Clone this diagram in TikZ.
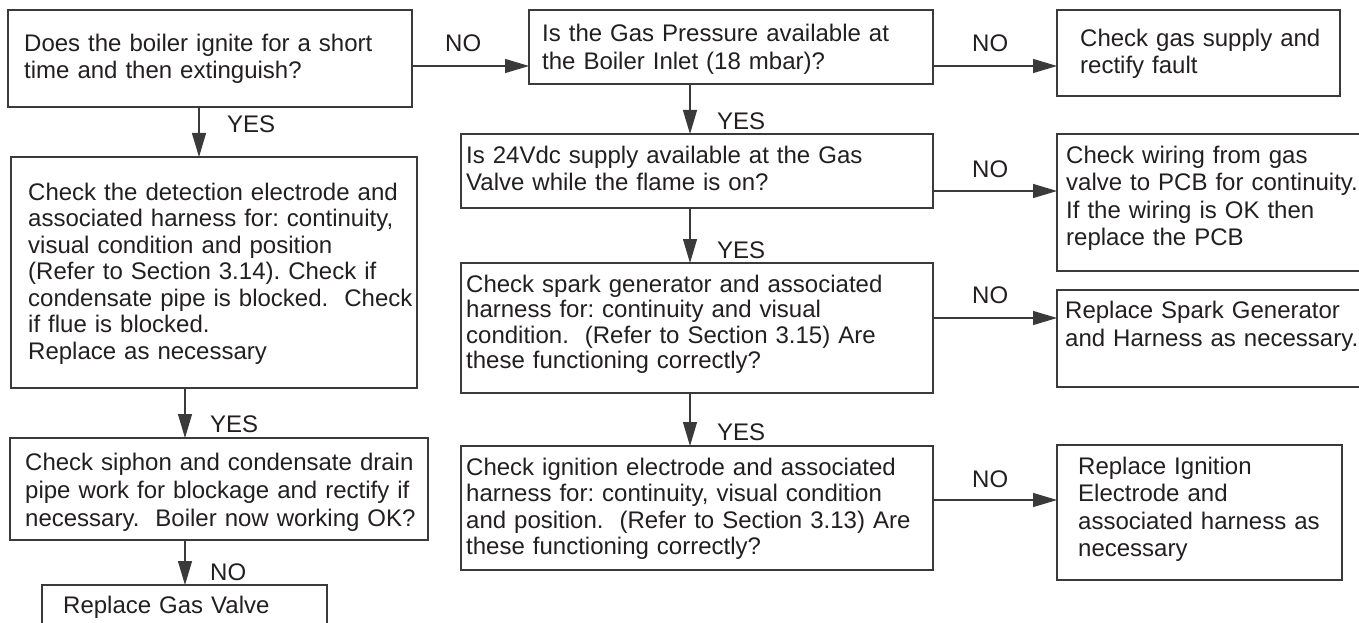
\documentclass[tikz,border=0pt]{standalone}
\usepackage{fontspec}
\setmainfont{Liberation Sans}
\usetikzlibrary{arrows.meta}
\definecolor{linecol}{HTML}{3A3A3A}
\definecolor{textcol}{HTML}{231F20}
\frenchspacing
\begin{document}
\begin{tikzpicture}[x=1pt,y=-1pt,
  box/.style={draw=linecol, line width=1.4pt, rectangle, inner sep=0pt, outer sep=0pt, anchor=north west},
  txt/.style={anchor=base west, inner sep=0pt, text width=480pt, align=left, text=textcol, font=\fontsize{24}{26.5}\selectfont},
  lbl/.style={anchor=base west, inner sep=0pt, text=textcol, font=\fontsize{24}{26.5}\selectfont},
  arr/.style={draw=linecol, line width=1.1pt, -{Triangle[length=24pt,width=14pt]}}]
\useasboundingbox (0,0) rectangle (1359,623);
\fill[white] (0,0) rectangle (1359,623);
\clip (0,0) rectangle (1359,623);
% boxes
\node[box, minimum width=404pt, minimum height=97pt]  (b1)  at (8,10) {};
\node[box, minimum width=406pt, minimum height=231pt] (b2)  at (11,157) {};
\node[box, minimum width=418pt, minimum height=102pt] (b3)  at (10,438) {};
\node[box, minimum width=285pt, minimum height=65pt]  (b4)  at (42,585) {};
\node[box, minimum width=404pt, minimum height=74pt]  (b5)  at (529,10) {};
\node[box, minimum width=472pt, minimum height=74pt]  (b6)  at (461,134) {};
\node[box, minimum width=472pt, minimum height=130pt] (b7)  at (461,263) {};
\node[box, minimum width=472pt, minimum height=124pt] (b8)  at (461,446) {};
\node[box, minimum width=283pt, minimum height=86pt]  (b9)  at (1057,10) {};
\node[box, minimum width=313pt, minimum height=137pt] (b10) at (1057,134) {};
\node[box, minimum width=313pt, minimum height=97pt]  (b11) at (1057,290) {};
\node[box, minimum width=285pt, minimum height=135pt] (b12) at (1057,445) {};
% texts
\node[txt] (t1) at (24,52) {Does the boiler ignite for a short\\time and then extinguish?};
\node[txt] (t2) at (28,200) {Check the detection electrode and\\associated harness for: continuity,\\visual condition and position\\(Refer to Section 3.14). Check if\\condensate pipe is blocked.\ \ Check\\if flue is blocked.\\Replace as necessary};
\node[txt, font=\fontsize{24}{28}\selectfont] (t3) at (25,470) {Check siphon and condensate drain\\pipe work for blockage and rectify if\\necessary.\ \ Boiler now working OK?};
\node[txt] (t4) at (63,613) {Replace Gas Valve};
\node[txt, font=\fontsize{24}{27.5}\selectfont] (t5) at (542,42) {Is the Gas Pressure available at\\the Boiler Inlet (18 mbar)?};
\node[txt, font=\fontsize{24}{28}\selectfont] (t6) at (466,163) {Is 24Vdc supply available at the Gas\\Valve while the flame is on?};
\node[txt, font=\fontsize{24}{25.5}\selectfont] (t7) at (466,292) {Check spark generator and associated\\harness for: continuity and visual\\condition.\ \ (Refer to Section 3.15) Are\\these functioning correctly?};
\node[txt] (t8) at (466,475) {Check ignition electrode and associated\\harness for: continuity, visual condition\\and position.\ \ (Refer to Section 3.13) Are\\these functioning correctly?};
\node[txt, font=\fontsize{24}{27}\selectfont] (t9) at (1080,47) {Check gas supply and\\rectify fault};
\node[txt, font=\fontsize{24}{27.5}\selectfont] (t10) at (1066,163) {Check wiring from gas\\valve to PCB for continuity.\\If the wiring is OK then\\replace the PCB};
\node[txt, font=\fontsize{24}{28}\selectfont] (t11) at (1065,318) {Replace Spark Generator\\and Harness as necessary.};
\node[txt, font=\fontsize{24}{27.5}\selectfont] (t12) at (1078,474) {Replace Ignition\\Electrode and\\associated harness as\\necessary};
% labels
\node[lbl] (n1) at (445,52) {NO};
\node[lbl] (n2) at (972,52) {NO};
\node[lbl] (n3) at (972,177) {NO};
\node[lbl] (n4) at (972,303) {NO};
\node[lbl] (n5) at (972,487) {NO};
\node[lbl] (y1) at (227,132) {YES};
\node[lbl] (y2) at (210,432) {YES};
\node[lbl] (n6) at (210,580) {NO};
\node[lbl] (y3) at (717,130) {YES};
\node[lbl] (y4) at (717,258) {YES};
\node[lbl] (y5) at (717,440) {YES};
% connector guides
\coordinate (h1) at (0,66);
\coordinate (h2) at (0,191);
\coordinate (h3) at (0,318);
\coordinate (h4) at (0,500);
\coordinate (v1) at (199,0);
\coordinate (v2) at (185,0);
\coordinate (v3) at (690,0);
% connectors
\draw[arr] (b1.east |- h1) -- (b5.west |- h1);
\draw[arr] (b5.east |- h1) -- (b9.west |- h1);
\draw[arr] (b6.east |- h2) -- (b10.west |- h2);
\draw[arr] (b7.east |- h3) -- (b11.west |- h3);
\draw[arr] (b8.east |- h4) -- (b12.west |- h4);
\draw[arr] (b1.south -| v1) -- (b2.north -| v1);
\draw[arr] (b2.south -| v2) -- (b3.north -| v2);
\draw[arr] (b3.south -| v2) -- (b4.north -| v2);
\draw[arr] (b5.south -| v3) -- (b6.north -| v3);
\draw[arr] (b6.south -| v3) -- (b7.north -| v3);
\draw[arr] (b7.south -| v3) -- (b8.north -| v3);
\end{tikzpicture}
\end{document}
